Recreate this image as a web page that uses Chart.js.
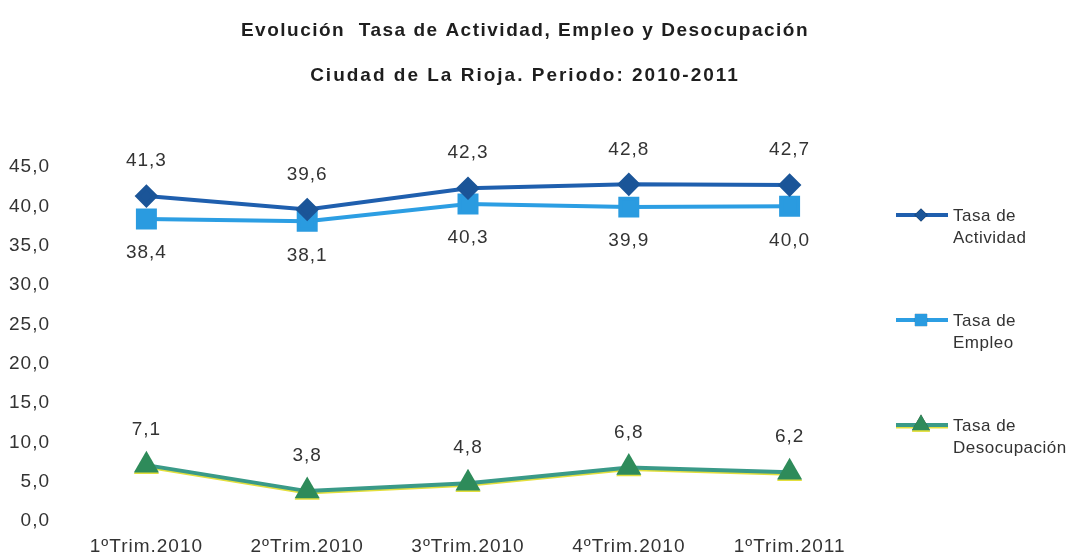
<!DOCTYPE html>
<html>
<head>
<meta charset="utf-8">
<script src="https://cdn.jsdelivr.net/npm/chart.js@4.4.1/dist/chart.umd.min.js"></script>
<style>
  html, body { margin: 0; padding: 0; background: #fff; }
  #wrap { width: 1072px; height: 558px; }
</style>
</head>
<body>
<div id="wrap"><canvas id="chart" width="1072" height="558"></canvas></div>
<script>
// ── Data ─────────────────────────────────────────────────────────────────────
const titleText    = 'Evolución  Tasa de Actividad, Empleo y Desocupación';
const subtitleText = 'Ciudad de La Rioja. Periodo: 2010-2011';
const periods      = ['1ºTrim.2010', '2ºTrim.2010', '3ºTrim.2010', '4ºTrim.2010', '1ºTrim.2011'];
const actividad    = [41.3, 39.6, 42.3, 42.8, 42.7];
const empleo       = [38.4, 38.1, 40.3, 39.9, 40.0];
const desocupacion = [7.1, 3.8, 4.8, 6.8, 6.2];
const yTicks       = [0, 5, 10, 15, 20, 25, 30, 35, 40, 45];
const legendLines  = [['Tasa de', 'Actividad'], ['Tasa de', 'Empleo'], ['Tasa de', 'Desocupación']];

const FONT = "'Liberation Sans', Arial, sans-serif";
const fmt = v => Number(v).toFixed(1).replace('.', ',');

// ── Plugins ──────────────────────────────────────────────────────────────────

// scanned original has slightly spread-out lettering
const spacing = {
    id: 'spacing',
    beforeLayout(chart) { chart.ctx.letterSpacing = '1px'; },
    beforeDraw(chart) { chart.ctx.letterSpacing = '1px'; }
};

// yellow edge under the Desocupación line (as in the Excel original)
const edgeShadow = {
    id: 'edgeShadow',
    beforeDatasetDraw(chart, args) {
        if (!chart.data.datasets[args.index].yellowEdge) return;
        const ctx = chart.ctx;
        ctx.save();
        ctx.shadowColor = '#e3df3c';
        ctx.shadowOffsetY = 1.5;
        ctx.shadowBlur = 0;
    },
    afterDatasetDraw(chart, args) {
        if (chart.data.datasets[args.index].yellowEdge) chart.ctx.restore();
    }
};

// title block centred on the whole page, not on the plot area
const header = {
    id: 'header',
    afterDraw(chart) {
        const ctx = chart.ctx;
        const cx = chart.width / 2 - 11;
        ctx.save();
        ctx.fillStyle = '#1e1e1e';
        ctx.textAlign = 'center';
        ctx.textBaseline = 'middle';
        ctx.letterSpacing = '1.5px';
        ctx.font = 'bold 19px ' + FONT;
        ctx.fillText(titleText, cx, 31);
        ctx.letterSpacing = '2px';
        ctx.font = 'bold 19px ' + FONT;
        ctx.fillText(subtitleText, cx, 76);
        ctx.restore();
    }
};

// value labels: above for Actividad / Desocupación, below for Empleo
const valueLabels = {
    id: 'valueLabels',
    afterDatasetsDraw(chart) {
        const ctx = chart.ctx;
        ctx.save();
        ctx.font = '19px ' + FONT;
        ctx.fillStyle = '#333';
        ctx.textAlign = 'center';
        ctx.textBaseline = 'middle';
        chart.data.datasets.forEach((ds, i) => {
            const meta = chart.getDatasetMeta(i);
            const dy = ds.labelSide === 'below' ? 34 : -35;
            meta.data.forEach((pt, j) => {
                ctx.fillText(fmt(ds.data[j]), pt.x, pt.y + dy);
            });
        });
        ctx.restore();
    }
};

// side legend with two-line labels, like the original Excel one
const sideLegend = {
    id: 'sideLegend',
    afterDraw(chart) {
        const ctx = chart.ctx;
        const x0 = chart.chartArea.right + 26;
        ctx.save();
        chart.data.datasets.forEach((ds, i) => {
            const y = chart.chartArea.top + 48 + i * 105;
            ctx.save();
            if (ds.yellowEdge) {
                ctx.shadowColor = '#e3df3c';
                ctx.shadowOffsetY = 1.5;
            }
            ctx.strokeStyle = ds.borderColor;
            ctx.lineWidth = 4;
            ctx.beginPath();
            ctx.moveTo(x0, y);
            ctx.lineTo(x0 + 52, y);
            ctx.stroke();
            Chart.helpers.drawPoint(ctx, {
                pointStyle: ds.pointStyle,
                radius: ds.pointRadius * 0.72,
                borderWidth: 0
            }, x0 + 25, y);
            ctx.fillStyle = ds.pointBackgroundColor;
            ctx.fill();
            ctx.restore();
            ctx.fillStyle = '#333';
            ctx.font = '17px ' + FONT;
            ctx.letterSpacing = '0.5px';
            ctx.textAlign = 'left';
            ctx.textBaseline = 'middle';
            legendLines[i].forEach((t, k) => ctx.fillText(t, x0 + 57, y + 1 + k * 22));
        });
        ctx.restore();
    }
};

// ── Chart ────────────────────────────────────────────────────────────────────

new Chart(document.getElementById('chart'), {
    type: 'line',
    data: {
        labels: periods,
        datasets: [
            {
                label: 'Tasa de Actividad',
                data: actividad,
                borderColor: '#1f5fae',
                borderWidth: 4,
                pointStyle: 'rectRot',
                pointRadius: 9,
                pointBackgroundColor: '#1b5598',
                pointBorderColor: '#1b5598',
                labelSide: 'above'
            },
            {
                label: 'Tasa de Empleo',
                data: empleo,
                borderColor: '#2c9ee3',
                borderWidth: 4,
                pointStyle: 'rect',
                pointRadius: 12,
                pointBackgroundColor: '#2a9be0',
                pointBorderColor: '#2a9be0',
                labelSide: 'below'
            },
            {
                label: 'Tasa de Desocupación',
                data: desocupacion,
                borderColor: '#3a9a88',
                borderWidth: 4,
                pointStyle: 'triangle',
                pointRadius: 14.5,
                pointBorderWidth: 0,
                pointBackgroundColor: '#2e8b5a',
                pointBorderColor: '#2e8b5a',
                labelSide: 'above',
                yellowEdge: true
            }
        ]
    },
    options: {
        responsive: false,
        animation: false,
        layout: { padding: { left: 0, right: 202, top: 167, bottom: 0 } },
        plugins: {
            legend: { display: false },
            tooltip: { enabled: false }
        },
        scales: {
            x: {
                offset: true,
                grid: { display: false, drawTicks: false },
                border: { display: false },
                ticks: { color: '#333', font: { family: FONT, size: 19 }, padding: 14, maxRotation: 0 },
                afterFit: axis => { axis.height = 37; axis.paddingLeft = 0; axis.paddingRight = 0; }
            },
            y: {
                min: 0,
                max: 45,
                afterBuildTicks: axis => { axis.ticks = yTicks.map(v => ({ value: v })); },
                grid: { display: false, drawTicks: false },
                border: { display: false },
                ticks: { color: '#333', font: { family: FONT, size: 19 }, padding: 16, callback: v => fmt(v) },
                afterFit: axis => { axis.width = 66; axis.paddingTop = 0; axis.paddingBottom = 0; }
            }
        }
    },
    plugins: [spacing, edgeShadow, header, valueLabels, sideLegend]
});
</script>
</body>
</html>
